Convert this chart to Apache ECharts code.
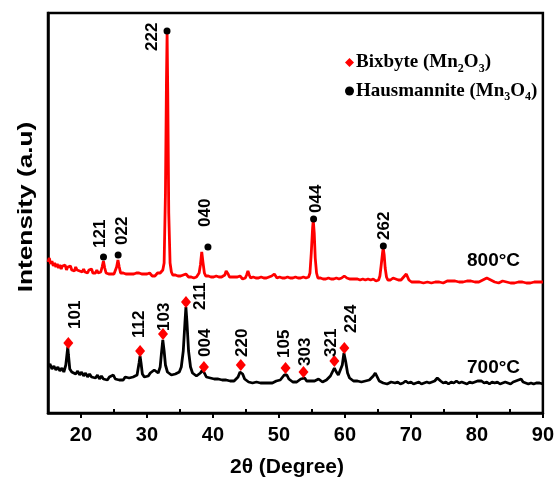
<!DOCTYPE html>
<html>
<head>
<meta charset="utf-8">
<script src="https://cdn.jsdelivr.net/npm/echarts@6/dist/echarts.min.js"></script>
<style>
html,body{margin:0;padding:0;background:#fff;}
#chart{width:557px;height:477px;}
</style>
</head>
<body>
<div id="chart"></div>
<script>
// ---- data ----
const xTickLabels = [20, 30, 40, 50, 60, 70, 80, 90];
const xMinorTicks = [25, 35, 45, 55, 65, 75, 85];

// 700 °C pattern [2θ, intensity a.u.]
const pattern700 = [
[15.0,46],[15.3,49],[15.6,44],[15.9,47],[16.2,43],[16.5,46],[16.8,42],[17.1,45],[17.4,41],[17.7,48],[17.9,60],[18.0,66],[18.1,58],[18.3,44],[18.6,41],[18.9,43],[19.2,39],[19.5,42],[19.8,38],[20.1,41],[20.4,37],[20.7,40],[21.0,36],[21.3,39],[21.6,36],[21.9,38],[22.2,35],[22.5,38],[22.8,34],[23.1,37],[23.4,34],[23.7,36],[24.0,33],[24.3,36],[24.6,34],[24.9,38],[25.2,34],[25.5,36],[25.8,33],[26.1,35],[26.4,33],[26.7,36],[27.0,34],[27.3,35],[27.6,33],[27.9,36],[28.2,35],[28.5,38],[28.8,50],[28.95,57],[29.1,50],[29.3,39],[29.6,36],[29.9,38],[30.2,37],[30.5,40],[30.8,39],[31.1,43],[31.4,41],[31.7,40],[32.0,46],[32.2,60],[32.4,73],[32.6,62],[32.8,48],[33.1,41],[33.4,39],[33.7,38],[34.0,37],[34.3,39],[34.6,38],[34.9,41],[35.2,46],[35.5,62],[35.75,90],[35.9,106],[36.05,92],[36.3,62],[36.6,46],[36.9,40],[37.2,38],[37.5,37],[37.8,39],[38.1,40],[38.4,43],[38.7,40],[39.0,36],[39.3,34],[39.6,35],[39.9,33],[40.2,34],[40.5,32],[40.8,34],[41.1,32],[41.4,33],[41.7,31],[42.0,33],[42.3,31],[42.6,32],[42.9,31],[43.2,32],[43.5,33],[43.8,36],[44.1,41],[44.3,43],[44.5,39],[44.8,34],[45.1,32],[45.4,31],[45.7,32],[46.0,30],[46.3,32],[46.6,31],[46.9,32],[47.2,30],[47.5,31],[47.8,30],[48.1,31],[48.4,30],[48.7,31],[49.0,30],[49.3,31],[49.6,32],[49.9,31],[50.2,33],[50.5,35],[50.8,38],[51.0,40],[51.2,38],[51.5,34],[51.8,33],[52.1,31],[52.4,32],[52.7,31],[53.0,33],[53.3,34],[53.6,36],[53.9,35],[54.2,32],[54.5,31],[54.8,32],[55.1,30],[55.4,32],[55.7,31],[56.0,34],[56.3,33],[56.6,31],[56.9,32],[57.2,33],[57.5,34],[57.8,37],[58.1,41],[58.4,45],[58.7,41],[59.0,38],[59.3,40],[59.6,48],[59.85,60],[60.1,52],[60.4,40],[60.7,35],[61.0,33],[61.3,32],[61.6,31],[61.9,32],[62.2,30],[62.5,31],[62.8,30],[63.1,32],[63.4,31],[63.7,33],[64.0,34],[64.3,37],[64.6,40],[64.9,36],[65.2,32],[65.5,31],[65.8,30],[66.1,31],[66.4,29],[66.7,30],[67.0,31],[67.3,29],[67.6,30],[68.0,31],[68.4,29],[68.8,30],[69.2,32],[69.6,30],[70.0,31],[70.4,29],[70.8,30],[71.2,31],[71.6,29],[72.0,30],[72.4,31],[72.8,30],[73.2,31],[73.6,32],[74.0,35],[74.2,36],[74.5,32],[74.9,30],[75.3,31],[75.7,29],[76.1,31],[76.5,30],[76.9,32],[77.3,30],[77.7,31],[78.1,30],[78.5,29],[78.9,31],[79.3,30],[79.7,31],[80.1,32],[80.4,33],[80.7,32],[81.1,30],[81.5,31],[81.9,29],[82.3,31],[82.7,30],[83.1,31],[83.5,29],[83.9,30],[84.3,31],[84.7,30],[85.1,29],[85.5,31],[85.9,32],[86.3,33],[86.7,34],[87.0,31],[87.4,30],[87.8,29],[88.2,30],[88.6,29],[89.0,30],[89.5,30],[90.0,29]
];

// 800 °C pattern [2θ, intensity a.u.] (offset upward)
const pattern800 = [
[15.0,151],[15.2,155],[15.4,149],[15.6,152],[15.8,147],[16.0,150],[16.2,146],[16.4,149],[16.6,145],[16.8,148],[17.0,144],[17.2,147],[17.4,145],[17.6,148],[17.8,143],[18.0,146],[18.2,144],[18.4,147],[18.6,143],[18.8,145],[19.0,142],[19.2,146],[19.4,143],[19.6,145],[19.8,142],[20.0,144],[20.2,141],[20.4,144],[20.6,141],[20.8,143],[21.0,140],[21.2,143],[21.4,141],[21.6,144],[21.8,140],[22.0,142],[22.2,140],[22.4,143],[22.6,140],[22.8,142],[23.0,141],[23.2,146],[23.4,152],[23.6,145],[23.8,140],[24.0,142],[24.2,139],[24.4,141],[24.6,139],[24.8,141],[25.0,139],[25.2,141],[25.4,146],[25.6,153],[25.8,146],[26.0,140],[26.2,138],[26.4,140],[26.6,138],[26.8,139],[27.0,137],[27.2,139],[27.4,137],[27.6,139],[27.8,137],[28.0,139],[28.2,138],[28.4,140],[28.6,138],[28.8,140],[29.0,138],[29.2,139],[29.4,137],[29.6,139],[29.8,137],[30.0,139],[30.2,138],[30.4,140],[30.6,138],[30.8,137],[31.0,139],[31.2,137],[31.4,139],[31.6,140],[31.8,139],[32.0,140],[32.2,141],[32.4,143],[32.6,150],[32.8,220],[32.95,330],[33.05,380],[33.15,320],[33.3,200],[33.5,150],[33.7,141],[33.9,138],[34.1,136],[34.3,138],[34.5,136],[34.7,137],[34.9,135],[35.1,137],[35.3,136],[35.5,138],[35.7,136],[35.9,139],[36.1,137],[36.3,136],[36.5,138],[36.7,136],[36.9,137],[37.1,135],[37.3,137],[37.5,136],[37.7,138],[37.9,140],[38.1,148],[38.3,161],[38.5,150],[38.7,140],[38.9,137],[39.1,135],[39.3,137],[39.5,135],[39.7,136],[39.9,134],[40.1,136],[40.3,135],[40.5,137],[40.7,135],[40.9,136],[41.1,134],[41.3,136],[41.5,135],[41.8,138],[42.0,142],[42.15,144],[42.3,139],[42.5,136],[42.7,134],[42.9,136],[43.1,135],[43.3,136],[43.5,134],[43.7,136],[43.9,135],[44.1,137],[44.3,135],[44.5,134],[44.7,136],[44.9,135],[45.1,138],[45.3,142],[45.5,138],[45.7,135],[45.9,134],[46.1,136],[46.3,134],[46.5,135],[46.7,133],[46.9,135],[47.1,134],[47.3,136],[47.5,134],[47.7,135],[47.9,133],[48.1,135],[48.3,134],[48.5,136],[48.7,135],[48.9,137],[49.1,138],[49.3,139],[49.5,137],[49.7,135],[49.9,134],[50.1,136],[50.3,134],[50.5,135],[50.7,133],[50.9,135],[51.1,134],[51.3,136],[51.5,134],[51.7,135],[51.9,133],[52.1,135],[52.3,134],[52.5,136],[52.7,134],[52.9,135],[53.1,133],[53.3,135],[53.5,134],[53.7,136],[53.9,134],[54.1,135],[54.3,134],[54.5,136],[54.7,140],[54.9,160],[55.1,185],[55.2,193],[55.35,180],[55.5,155],[55.7,140],[55.9,135],[56.1,133],[56.3,135],[56.5,133],[56.7,134],[56.9,132],[57.1,134],[57.3,133],[57.5,135],[57.7,133],[57.9,134],[58.1,132],[58.3,134],[58.5,133],[58.7,135],[58.9,133],[59.1,134],[59.3,133],[59.5,135],[59.7,136],[59.9,137],[60.1,136],[60.3,135],[60.5,136],[60.7,134],[60.9,133],[61.1,134],[61.3,132],[61.5,134],[61.7,133],[61.9,134],[62.1,132],[62.3,133],[62.5,132],[62.7,134],[62.9,132],[63.1,133],[63.3,132],[63.5,134],[63.7,132],[63.9,133],[64.1,132],[64.3,134],[64.5,133],[64.7,132],[64.9,134],[65.1,133],[65.3,137],[65.5,148],[65.7,160],[65.8,165],[65.95,158],[66.1,145],[66.3,136],[66.5,133],[66.7,132],[66.9,133],[67.1,134],[67.3,135],[67.5,136],[67.7,134],[67.9,132],[68.1,133],[68.3,132],[68.5,133],[68.7,134],[68.9,136],[69.1,138],[69.3,139],[69.5,136],[69.7,133],[69.9,132],[70.1,131],[70.4,132],[70.7,131],[71.0,133],[71.3,131],[71.6,132],[71.9,130],[72.2,132],[72.5,131],[72.8,132],[73.1,130],[73.4,132],[73.7,131],[74.0,133],[74.3,131],[74.6,132],[74.9,130],[75.2,131],[75.5,132],[75.8,130],[76.1,132],[76.4,131],[76.7,132],[77.0,130],[77.3,131],[77.6,132],[77.9,131],[78.2,130],[78.5,132],[78.8,131],[79.1,132],[79.4,130],[79.7,131],[80.0,132],[80.3,131],[80.6,132],[80.9,133],[81.2,134],[81.5,135],[81.8,134],[82.1,133],[82.4,132],[82.7,131],[83.0,132],[83.3,130],[83.6,131],[83.9,132],[84.2,130],[84.5,131],[84.8,132],[85.1,130],[85.4,131],[85.7,130],[86.0,132],[86.3,131],[86.6,130],[86.9,131],[87.2,132],[87.5,130],[87.8,131],[88.1,130],[88.4,132],[88.7,131],[89.0,130],[89.3,131],[89.6,130],[90.0,131]
];

// Bixbyite (Mn2O3) reflections marked on the 700 °C pattern
const bixbyiteHkl = ['101','112','103','211','004','220','105','303','321','224'];
const bixbyitePos = [[18.08,70],[28.96,62],[32.43,79],[35.91,111],[38.63,46],[44.22,48],[51.0,45],[53.72,41],[58.4,52],[59.91,65]];

// Hausmannite (Mn3O4) reflections marked on the 800 °C pattern
const hausmanniteHkl = ['121','022','222','040','044','262'];
const hausmannitePos = [[23.41,156],[25.63,158],[33.04,382],[39.24,166],[55.25,194],[65.82,167]];

const seriesNames = ['700°C', '800°C'];
const legendNames = ['Bixbyte (Mn2O3)', 'Hausmannite (Mn3O4)'];

// ---- style: label offsets in pixels relative to each marker ----
const labelOffsets = {
  '101':[7,-14],'112':[-1,-13],'103':[1,-3],'211':[14,8],'004':[1,-10],'220':[2,-8],
  '105':[-1,-10],'303':[2,-6],'321':[-3,-4],'224':[7,-15],
  '121':[-3,-9],'022':[4,-10],'222':[-15,20],'040':[-3,-20],'044':[3,-6],'262':[1,-6]
};

const SANS = 'Liberation Sans, Arial, sans-serif';
const SERIF = 'Liberation Serif, Times New Roman, serif';

const markerLabelStyle = {
  show: true, rotate: 90, align: 'left', verticalAlign: 'middle',
  fontSize: 17, fontWeight: 'bold', fontFamily: SANS, color: '#000',
  formatter: function (p) { return p.name; }
};

function markerData(hkls, pos, w, h) {
  return pos.map((p, i) => {
    const o = labelOffsets[hkls[i]];
    return {
      name: hkls[i],
      value: p,
      label: { position: [w / 2 + o[0], h / 2 + o[1]] }
    };
  });
}

const chart = echarts.init(document.getElementById('chart'), null, {renderer: 'canvas'});
const legendRich = {
  b: {fontFamily: SERIF, fontWeight: 'bold', fontSize: 19, color: '#000', lineHeight: 24, verticalAlign: 'middle'},
  s: {fontFamily: SERIF, fontWeight: 'bold', fontSize: 12, color: '#000', lineHeight: 12, verticalAlign: 'bottom'}
};

chart.setOption({
  animation: false,
  backgroundColor: '#fff',
  grid: {left: 48, right: 12, top: 13, bottom: 64, show: true, borderColor: '#000', borderWidth: 2.5, containLabel: false},
  legend: {
    orient: 'vertical', left: 340, top: 48, itemGap: 7,
    itemWidth: 9, itemHeight: 9,
    data: [{name: legendNames[0], icon: 'diamond', itemStyle: {color: '#ff0000', opacity: 1}},
           {name: legendNames[1], icon: 'circle', itemStyle: {color: '#000', opacity: 1}}],
    formatter: function (n) {
      const m = n.match(/^(.*\(Mn)(\d)O(\d)\)$/);
      return '{b|' + m[1] + '}{s|' + m[2] + '}{b|O}{s|' + m[3] + '}{b|)}';
    },
    textStyle: {rich: legendRich, padding: [0,0,0,-3]}
  },
  xAxis: [{
    type: 'value', min: 15, max: 90, position: 'bottom',
    axisLine: {show: true, lineStyle: {color: '#000', width: 2.5}},
    axisTick: {show: true, inside: false, length: 5, customValues: xTickLabels, lineStyle: {color: '#000', width: 2}},
    axisLabel: {show: true, customValues: xTickLabels, margin: 12, fontSize: 20, fontWeight: 'bold', fontFamily: SANS, color: '#000'},
    splitLine: {show: false}
  }, {
    type: 'value', min: 15, max: 90, position: 'bottom',
    axisLine: {show: false},
    axisTick: {show: true, inside: true, length: 4, customValues: xMinorTicks, lineStyle: {color: '#000', width: 2}},
    axisLabel: {show: false},
    splitLine: {show: false}
  }],
  yAxis: {
    type: 'value', min: 0, max: 400,
    axisLine: {show: true, lineStyle: {color: '#000', width: 2.5}},
    axisTick: {show: false}, axisLabel: {show: false}, splitLine: {show: false}
  },
  graphic: [
    {type: 'text', left: 467, top: 251, style: {text: '800°C', font: 'bold 19px ' + SANS, fill: '#000'}},
    {type: 'text', left: 467, top: 358, style: {text: '700°C', font: 'bold 19px ' + SANS, fill: '#000'}},
    {type: 'text', x: 287, y: 467, style: {text: '2θ (Degree)', font: 'bold 21px ' + SANS, fill: '#000', align: 'center', verticalAlign: 'middle'}},
    {type: 'text', x: 26, y: 207, rotation: Math.PI / 2, scaleX: 1.25,
     style: {text: 'Intensity (a.u)', font: 'bold 21px ' + SANS, fill: '#000', align: 'center', verticalAlign: 'middle'}}
  ],
  series: [
    {name: seriesNames[0], type: 'line', data: pattern700, showSymbol: false, symbol: 'none',
     lineStyle: {color: '#000', width: 2.8}, z: 2},
    {name: seriesNames[1], type: 'line', data: pattern800, showSymbol: false, symbol: 'none',
     lineStyle: {color: '#ff0000', width: 2.8}, z: 2},
    {name: legendNames[0], type: 'scatter', symbol: 'diamond', symbolSize: [10, 12],
     itemStyle: {color: '#ff0000', opacity: 1}, label: markerLabelStyle,
     data: markerData(bixbyiteHkl, bixbyitePos, 10, 12), z: 5},
    {name: legendNames[1], type: 'scatter', symbol: 'circle', symbolSize: 7,
     itemStyle: {color: '#000', opacity: 1}, label: markerLabelStyle,
     data: markerData(hausmanniteHkl, hausmannitePos, 7, 7), z: 5}
  ]
});
</script>
</body>
</html>
